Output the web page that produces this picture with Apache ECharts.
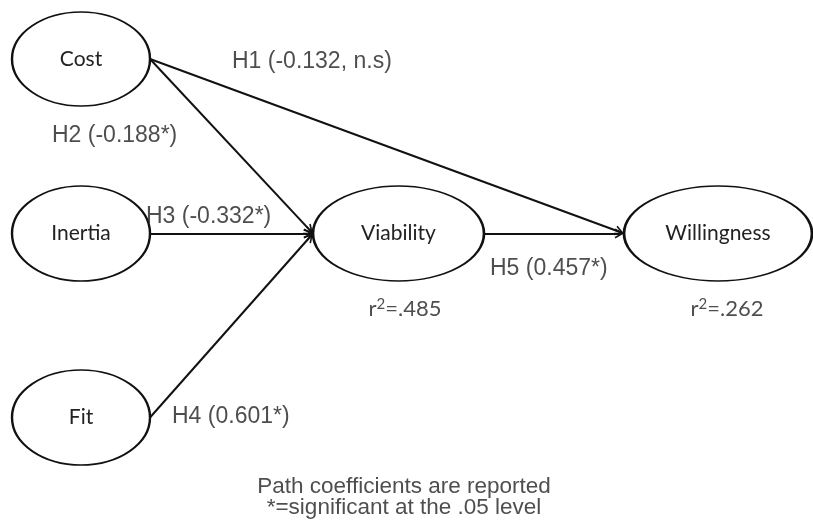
<!DOCTYPE html>
<html><head><meta charset="utf-8">
<script src="https://cdn.jsdelivr.net/npm/echarts@6/dist/echarts.min.js"></script>
<style>html,body{margin:0;padding:0;background:#fff}#c{width:813px;height:524px}</style>
</head><body><div id="c"></div>
<script>
// ---- data ----
const constructs = ['Cost', 'Inertia', 'Fit', 'Viability', 'Willingness'];
const pathSources = ['Cost', 'Cost', 'Inertia', 'Fit', 'Viability'];
const pathTargets = ['Willingness', 'Viability', 'Viability', 'Viability', 'Willingness'];
const pathNames = ['H1', 'H2', 'H3', 'H4', 'H5'];
const pathCoefficients = [-0.132, -0.188, -0.332, 0.601, 0.457];
const pathSignificant = [false, true, true, true, true];
const rSquaredNodes = ['Viability', 'Willingness'];
const rSquaredValues = ['.485', '.262'];
const notes = ['Path coefficients are reported', '*=significant at the .05 level'];

// ---- layout (pixels) ----
const nodeLayout = {
  Cost: {x: 81, y: 59, w: 138, h: 94},
  Inertia: {x: 81, y: 233.5, w: 138, h: 95},
  Fit: {x: 81, y: 417.5, w: 138, h: 95},
  Viability: {x: 398.5, y: 233.5, w: 171, h: 95},
  Willingness: {x: 718, y: 233.5, w: 188, h: 95}
};
const pathLabelLayout = [[232, 62], [52, 136], [146, 217], [172, 417], [490, 269]];
const r2Layout = [[405, 309], [727, 309]];
const noteLayout = [[404, 487], [404, 508]];
const ARROW = [13, 10];

const ellipsePath = 'path://M0,50 A50,50 0 1,1 100,50 A50,50 0 1,1 0,50 Z';
const chevron = 'path://M5,0 L10,8.6 L8.6,9.4 L5,3.2 L1.4,9.4 L0,8.6 Z M4.2,1 L5.8,1 L5.8,10 L4.2,10 Z';

const nodeData = constructs.map(n => ({name: n, value: [nodeLayout[n].x, nodeLayout[n].y], symbolSize: [nodeLayout[n].w, nodeLayout[n].h]}));

const lineData = pathSources.map((s, i) => {
  const a = nodeLayout[s], b = nodeLayout[pathTargets[i]];
  const p0 = [a.x + a.w / 2, a.y];
  const p1 = [b.x - b.w / 2, b.y];
  const dx = p1[0] - p0[0], dy = p1[1] - p0[1], L = Math.hypot(dx, dy);
  const e = [p1[0] - dx / L * ARROW[1] / 2, p1[1] - dy / L * ARROW[1] / 2];
  return {coords: [p0, e]};
});

const pathLabelData = pathNames.map((h, i) => ({
  value: pathLabelLayout[i],
  label: {formatter: h + ' (' + pathCoefficients[i].toFixed(3) + (pathSignificant[i] ? '*' : ', n.s') + ')'}
}));
const r2Data = rSquaredNodes.map((n, i) => ({value: r2Layout[i], label: {formatter: 'r{sup|2}=' + rSquaredValues[i]}}));
const noteData = notes.map((t, i) => ({value: noteLayout[i], label: {formatter: t}}));

const chart = echarts.init(document.getElementById('c'), null, {renderer: 'canvas'});
chart.setOption({
  backgroundColor: '#fff',
  animation: false,
  grid: {left: 0, right: 0, top: 0, bottom: 0},
  xAxis: {type: 'value', min: 0, max: 813, show: false},
  yAxis: {type: 'value', min: 0, max: 524, inverse: true, show: false},
  series: [
    {
      type: 'scatter', z: 2, symbol: ellipsePath, data: nodeData,
      itemStyle: {color: '#fff', borderColor: '#111', borderWidth: 2, opacity: 1},
      label: {show: true, position: 'inside', formatter: '{b}', color: '#222', fontFamily: 'Lato', fontSize: 21}
    },
    {
      type: 'lines', coordinateSystem: 'cartesian2d', z: 3, data: lineData,
      symbol: ['none', chevron], symbolSize: ARROW,
      lineStyle: {color: '#111', width: 2, opacity: 1}
    },
    {
      type: 'scatter', z: 4, symbolSize: 0, data: pathLabelData,
      label: {show: true, position: 'right', distance: 0, align: 'left', verticalAlign: 'middle', color: '#222', fontFamily: 'Liberation Sans', fontSize: 23}
    },
    {
      type: 'scatter', z: 4, symbolSize: 0, data: r2Data,
      label: {show: true, position: 'inside', align: 'center', verticalAlign: 'middle', color: '#222', fontFamily: 'Lato', fontSize: 22, lineHeight: 24,
        rich: {sup: {fontFamily: 'Lato', fontSize: 15, color: '#222', verticalAlign: 'top', lineHeight: 24, padding: [0, 0, 6, 0]}}}
    },
    {
      type: 'scatter', z: 4, symbolSize: 0, data: noteData,
      label: {show: true, position: 'inside', align: 'center', verticalAlign: 'middle', color: '#222', fontFamily: 'Liberation Sans', fontSize: 22.5}
    }
  ]
});
</script></body></html>
